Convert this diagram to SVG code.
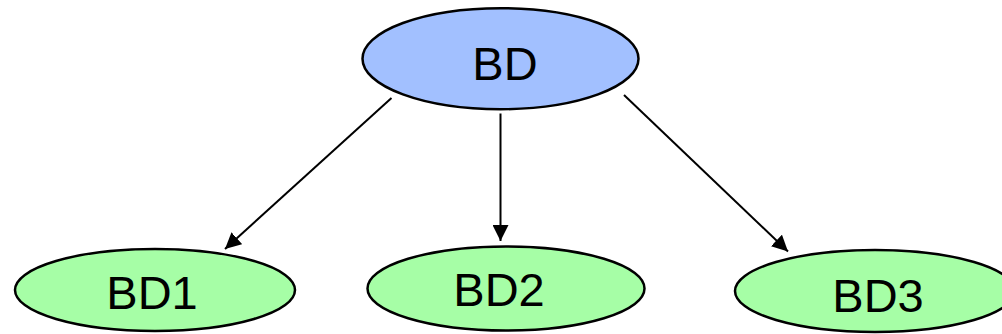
<svg xmlns="http://www.w3.org/2000/svg" width="1002" height="334" viewBox="0 0 1002 334">
<style>
.top{fill:#a2c0ff;stroke:#000;stroke-width:2.5}
.leaf{fill:#a6fea6;stroke:#000;stroke-width:2.5}
.lbl{font-family:"Liberation Sans",Arial,sans-serif;font-size:47px;fill:#000;text-anchor:middle}
.edge{stroke:#000;stroke-width:2;fill:none;marker-end:url(#ah)}
</style>
<defs>
<marker id="ah" viewBox="0 0 16 16" refX="16" refY="8" markerWidth="16" markerHeight="16" markerUnits="userSpaceOnUse" orient="auto">
<path d="M0,0 L16,8 L0,16 Z" fill="#000"/>
</marker>
</defs>
<rect width="1002" height="334" fill="#fff"/>
<g id="connectors">
<line class="edge" x1="391.5" y1="98" x2="225" y2="249"/>
<line class="edge" x1="500.5" y1="113.5" x2="500.5" y2="241"/>
<line class="edge" x1="624" y1="95" x2="788" y2="251.5"/>
</g>
<g id="node-bd">
<ellipse class="top" cx="500.5" cy="58.7" rx="138" ry="50.5"/>
<text class="lbl" x="505" y="80">BD</text>
</g>
<g id="node-bd1">
<ellipse class="leaf" cx="155" cy="290" rx="140" ry="41"/>
<text class="lbl" x="152" y="309">BD1</text>
</g>
<g id="node-bd2">
<ellipse class="leaf" cx="506" cy="288.5" rx="138.5" ry="42"/>
<text class="lbl" x="499" y="306">BD2</text>
</g>
<g id="node-bd3">
<ellipse class="leaf" cx="875" cy="291" rx="140" ry="41"/>
<text class="lbl" x="878" y="312">BD3</text>
</g>
</svg>
